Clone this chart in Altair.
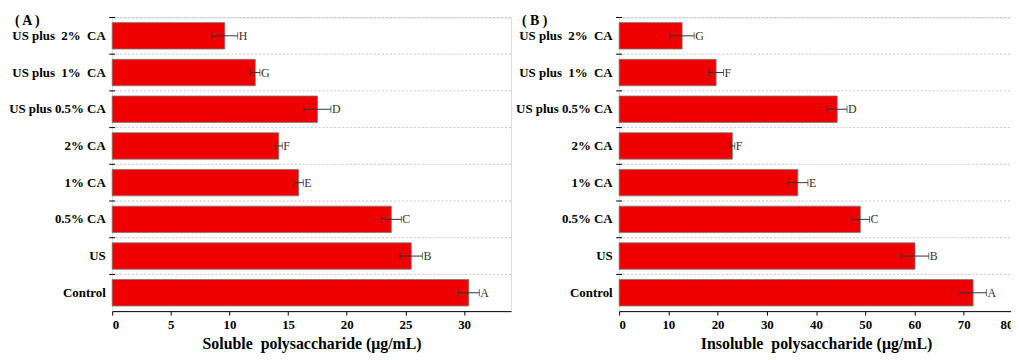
import altair as alt
import pandas as pd

NB = "\u00a0"
categories = ["US plus" + NB + NB + "2%" + NB + NB + "CA",
              "US plus" + NB + NB + "1%" + NB + NB + "CA",
              "US plus 0.5% CA",
              "2% CA", "1% CA", "0.5% CA", "US", "Control"]

soluble = [9.6, 12.2, 17.5, 14.2, 15.9, 23.8, 25.5, 30.4]
soluble_err = [1.1, 0.4, 1.15, 0.3, 0.4, 0.85, 0.95, 0.9]
soluble_letters = ["H", "G", "D", "F", "E", "C", "B", "A"]

insoluble = [12.8, 19.7, 44.3, 23.0, 36.3, 49.0, 60.1, 71.9]
insoluble_err = [2.45, 1.5, 2.0, 0.5, 2.05, 1.85, 2.8, 2.7]
insoluble_letters = ["G", "F", "D", "F", "E", "C", "B", "A"]

FONT = "Liberation Serif"
PLOT_H = 296


def panel(vals, errs, letters, label, xtitle, dmax, step, width):
    df = pd.DataFrame({
        "cat": categories,
        "val": vals,
        "lo": [v - e for v, e in zip(vals, errs)],
        "hi": [v + e for v, e in zip(vals, errs)],
        "letter": letters,
    })
    yax = alt.Axis(title=None, ticks=False, labelPadding=7, labelFont=FONT,
                   labelFontWeight="bold", labelFontSize=13, labelColor="#000",
                   labelLimit=300, domain=False)
    y = alt.Y("cat:N", sort=categories, axis=yax,
              scale=alt.Scale(paddingInner=0, paddingOuter=0))
    yb = alt.Y("cat:N", sort=categories, axis=yax, bandPosition=0,
               scale=alt.Scale(paddingInner=0, paddingOuter=0))
    xscale = alt.Scale(domain=[0, dmax], nice=False, zero=True)
    ticks = [v for v in range(0, dmax + 1, step)]
    xax = alt.Axis(title=xtitle, values=ticks,
                   grid=False, tickSize=4, tickColor="#000", domainColor="#000",
                   labelFont=FONT, labelFontWeight="bold", labelFontSize=13,
                   labelColor="#000", labelPadding=4, labelOverlap=False,
                   labelBound=False, titleFont=FONT,
                   titleFontWeight="bold", titleFontSize=16, titleColor="#000",
                   titlePadding=4)
    base = alt.Chart(df)
    grid = base.mark_rule(color="#c8c8c8", strokeDash=[2, 2], strokeWidth=1).encode(
        y=yb, x=alt.value(0), x2=alt.value(width))
    yticks = base.mark_rule(color="#000", strokeWidth=1).encode(
        y=yb, x=alt.value(-3), x2=alt.value(3))
    bars = base.mark_bar(color="#EE0000", stroke="#7a7a7a", strokeWidth=0.8,
                         height={"band": 0.72}).encode(
        y=y, x=alt.X("val:Q", scale=xscale, axis=xax))
    err = base.mark_rule(color="#333", strokeWidth=1).encode(
        y=y, x=alt.X("lo:Q", scale=xscale), x2="hi:Q")
    cap_lo = base.mark_tick(color="#333", orient="vertical", size=7, thickness=1).encode(
        y=y, x=alt.X("lo:Q", scale=xscale))
    cap_hi = base.mark_tick(color="#333", orient="vertical", size=7, thickness=1).encode(
        y=y, x=alt.X("hi:Q", scale=xscale))
    txt = base.mark_text(align="left", baseline="middle", dx=1, font=FONT,
                         fontSize=12, color="#333").encode(
        y=y, x=alt.X("hi:Q", scale=xscale), text="letter:N")
    lab = alt.Chart(pd.DataFrame({"t": [label]})).mark_text(
        align="left", baseline="middle", font=FONT, fontSize=14,
        fontWeight="bold", color="#000").encode(
        x=alt.value(-98), y=alt.value(4), text="t:N")
    return alt.layer(grid, bars, err, cap_lo, cap_hi, txt, yticks, lab).properties(
        width=width, height=PLOT_H)


A = panel(soluble, soluble_err, soluble_letters, "( A )",
          "Soluble" + NB + NB + "polysaccharide (\u03bcg/mL)", 34, 5, 402)
B = panel(insoluble, insoluble_err, insoluble_letters, "( B )",
          "Insoluble" + NB + NB + "polysaccharide (\u03bcg/mL)", 80, 10, 397)

chart = alt.hconcat(A, B, spacing=2).properties(
    autosize=alt.AutoSizeParams(type="none"),
    padding={"left": 105, "top": 7, "right": 906, "bottom": 336}
).configure_view(stroke="#000", strokeWidth=1.2).configure(background="white")

chart.save("out.html", embed_options={"renderer": "svg", "actions": False})
